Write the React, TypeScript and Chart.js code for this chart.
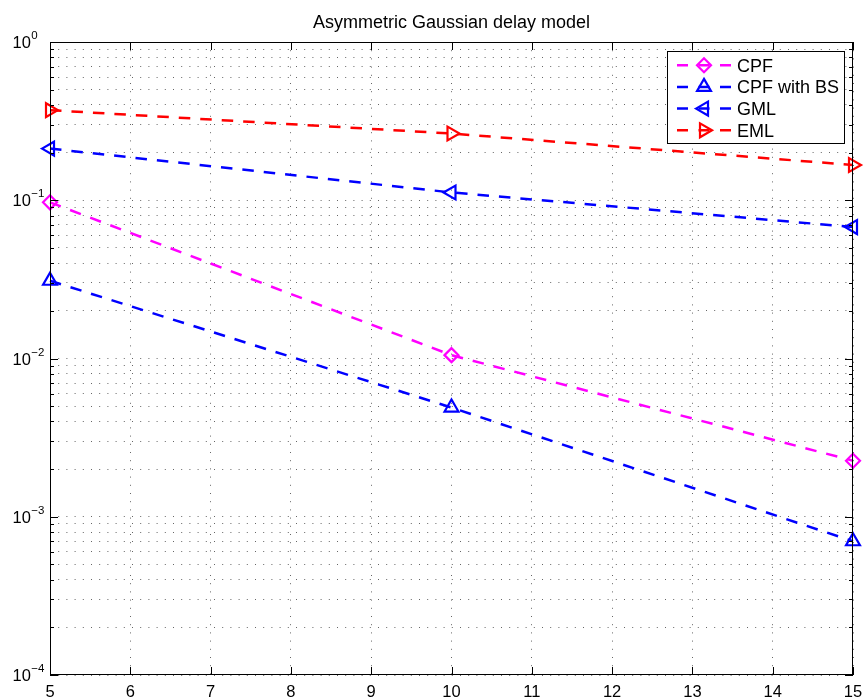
import React, { useEffect, useRef } from "react";
import { Chart, registerables } from "chart.js";

Chart.register(...registerables);

// ---- data ----
const xValues = [5, 10, 15];
const cpfValues = [0.097, 0.0105, 0.00226];
const cpfBsValues = [0.031, 0.0049, 0.0007];
const gmlValues = [0.212, 0.112, 0.0677];
const emlValues = [0.371, 0.264, 0.167];
const seriesNames = ["CPF", "CPF with BS", "GML", "EML"];
const xTickValues = [5, 6, 7, 8, 9, 10, 11, 12, 13, 14, 15];
const yDecades = [-4, -3, -2, -1, 0];
const titleText = "Asymmetric Gaussian delay model";

const FONT = "'Liberation Sans', Arial, Helvetica, sans-serif";

type MarkerKind = "diamond" | "triUp" | "triLeft" | "triRight";

const seriesStyles: { color: string; style: string; rotation: number; radius: number; kind: MarkerKind }[] = [
  { color: "#ff00ff", style: "rectRot", rotation: 0, radius: 7, kind: "diamond" },
  { color: "#0000ff", style: "triangle", rotation: 0, radius: 8, kind: "triUp" },
  { color: "#0000ff", style: "triangle", rotation: -90, radius: 8, kind: "triLeft" },
  { color: "#ff0000", style: "triangle", rotation: 90, radius: 8, kind: "triRight" },
];

const allSeries = [cpfValues, cpfBsValues, gmlValues, emlValues];

function yTickList(): number[] {
  const out: number[] = [];
  for (const e of yDecades) {
    for (let m = 1; m <= 9; m++) {
      const v = m * Math.pow(10, e);
      if (v <= 1.0000001) out.push(Number(v.toPrecision(6)));
    }
  }
  return out;
}

function drawMarker(ctx: CanvasRenderingContext2D, kind: MarkerKind, x: number, y: number, r: number) {
  ctx.beginPath();
  if (kind === "diamond") {
    ctx.moveTo(x - r, y);
    ctx.lineTo(x, y - r);
    ctx.lineTo(x + r, y);
    ctx.lineTo(x, y + r);
  } else {
    const rot = kind === "triUp" ? 0 : kind === "triLeft" ? -Math.PI / 2 : Math.PI / 2;
    let a = rot;
    for (let i = 0; i < 3; i++) {
      const px = x + Math.sin(a) * r;
      const py = y - Math.cos(a) * r;
      if (i === 0) ctx.moveTo(px, py);
      else ctx.lineTo(px, py);
      a += (2 * Math.PI) / 3;
    }
  }
  ctx.closePath();
  ctx.stroke();
}

const matlabPlugin = {
  id: "matlabDecor",
  afterDraw(chart: any) {
    const ctx: CanvasRenderingContext2D = chart.ctx;
    const { left, right, top, bottom } = chart.chartArea;
    const xs = chart.scales.x;
    const ys = chart.scales.y;
    ctx.save();

    // axes box
    ctx.setLineDash([]);
    ctx.strokeStyle = "#000";
    ctx.lineWidth = 1;
    ctx.strokeRect(Math.floor(left) + 0.5, Math.floor(top) + 0.5, Math.round(right - left) - 1, Math.round(bottom - top) - 1);

    // x ticks
    ctx.beginPath();
    for (const v of xTickValues) {
      const px = Math.round(xs.getPixelForValue(v)) + 0.5;
      ctx.moveTo(px, bottom);
      ctx.lineTo(px, bottom - 8);
      ctx.moveTo(px, top);
      ctx.lineTo(px, top + 8);
    }
    // y ticks
    for (const e of yDecades) {
      for (let m = 1; m <= 9; m++) {
        const v = m * Math.pow(10, e);
        if (v > 1.0000001) break;
        const py = Math.round(ys.getPixelForValue(v)) + 0.5;
        const len = m === 1 ? 8 : 4;
        ctx.moveTo(left, py);
        ctx.lineTo(left + len, py);
        ctx.moveTo(right, py);
        ctx.lineTo(right - len, py);
      }
    }
    ctx.stroke();

    // x labels
    ctx.fillStyle = "#000";
    ctx.font = `16.5px ${FONT}`;
    ctx.textAlign = "center";
    ctx.textBaseline = "alphabetic";
    for (const v of xTickValues) {
      const px = xs.getPixelForValue(v);
      ctx.fillText(String(v), px, bottom + 21.5);
    }

    // y labels (10^e)
    for (const e of yDecades) {
      const py = ys.getPixelForValue(Math.pow(10, e));
      ctx.textAlign = "left";
      ctx.font = `16.5px ${FONT}`;
      ctx.fillText("10", 12.5, py + 6);
      const w = ctx.measureText("10").width;
      ctx.font = `11.5px ${FONT}`;
      const exp = e < 0 ? "\u2212" + String(-e) : String(e);
      ctx.fillText(exp, 12.5 + w + 0.5, py - 3);
    }

    // title
    ctx.font = `18px ${FONT}`;
    ctx.textAlign = "center";
    ctx.fillText(titleText, (left + right) / 2, 27.5);

    // legend
    const lx0 = 667, ly0 = 51, lx1 = 844, ly1 = 143;
    ctx.fillStyle = "#fff";
    ctx.fillRect(lx0, ly0, lx1 - lx0, ly1 - ly0);
    ctx.strokeStyle = "#000";
    ctx.lineWidth = 1;
    ctx.strokeRect(lx0 + 0.5, ly0 + 0.5, lx1 - lx0, ly1 - ly0);
    ctx.font = `18px ${FONT}`;
    ctx.textAlign = "left";
    for (let i = 0; i < seriesNames.length; i++) {
      const st = seriesStyles[i];
      const base = 71.7 + i * 21.7;
      const cy = base - 6.5;
      ctx.strokeStyle = st.color;
      ctx.lineWidth = 2.5;
      ctx.beginPath();
      ctx.moveTo(677, cy);
      ctx.lineTo(688, cy);
      ctx.moveTo(698.5, cy);
      ctx.lineTo(709.5, cy);
      ctx.moveTo(720, cy);
      ctx.lineTo(731, cy);
      ctx.stroke();
      ctx.lineWidth = 2.2;
      drawMarker(ctx, st.kind, 704, cy, st.radius);
      ctx.fillStyle = "#000";
      ctx.fillText(seriesNames[i], 737, base);
    }
    ctx.restore();
  },
};

export default function App() {
  const canvasRef = useRef<HTMLCanvasElement | null>(null);

  useEffect(() => {
    document.body.style.margin = "0";
    const canvas = canvasRef.current;
    if (!canvas) return;

    const datasets = allSeries.map((vals, i) => {
      const st = seriesStyles[i];
      return {
        label: seriesNames[i],
        data: vals.map((v, j) => ({ x: xValues[j], y: v })),
        borderColor: st.color,
        backgroundColor: "transparent",
        borderWidth: 2.5,
        borderDash: [11.5, 10],
        pointStyle: st.style,
        pointRotation: st.rotation,
        pointRadius: st.radius,
        pointBorderWidth: 2.2,
        pointBorderColor: st.color,
        pointBackgroundColor: "rgba(0,0,0,0)",
        tension: 0,
        fill: false,
        clip: false as any,
      };
    });

    const gridStyle = {
      display: true,
      color: "#666",
      lineWidth: 1,
      drawTicks: false,
      drawOnChartArea: true,
    };

    const chart = new Chart(canvas, {
      type: "line",
      data: { datasets: datasets as any },
      options: {
        responsive: false,
        animation: false,
        devicePixelRatio: 1,
        layout: {
          autoPadding: false,
          padding: { left: 50, right: 12, top: 42, bottom: 25 },
        },
        plugins: {
          legend: { display: false },
          title: { display: false },
          tooltip: { enabled: false },
        },
        scales: {
          x: {
            type: "linear",
            min: 5,
            max: 15,
            grid: gridStyle,
            border: { display: false, dash: [1, 7.2] },
            ticks: { display: false, stepSize: 1 },
            afterBuildTicks: (scale: any) => {
              scale.ticks = xTickValues.map((v) => ({ value: v }));
            },
            afterFit: (scale: any) => {
              scale.height = 0;
            },
          },
          y: {
            type: "logarithmic",
            min: 1e-4,
            max: 1,
            grid: gridStyle,
            border: { display: false, dash: [1, 7.2] },
            ticks: { display: false },
            afterBuildTicks: (scale: any) => {
              scale.ticks = yTickList().map((v) => ({ value: v }));
            },
            afterFit: (scale: any) => {
              scale.width = 0;
            },
          },
        },
      } as any,
      plugins: [matlabPlugin],
    });

    return () => {
      chart.destroy();
    };
  }, []);

  return (
    <div style={{ width: 865, height: 700, background: "#fff" }}>
      <canvas ref={canvasRef} width={865} height={700} style={{ display: "block" }} />
    </div>
  );
}
